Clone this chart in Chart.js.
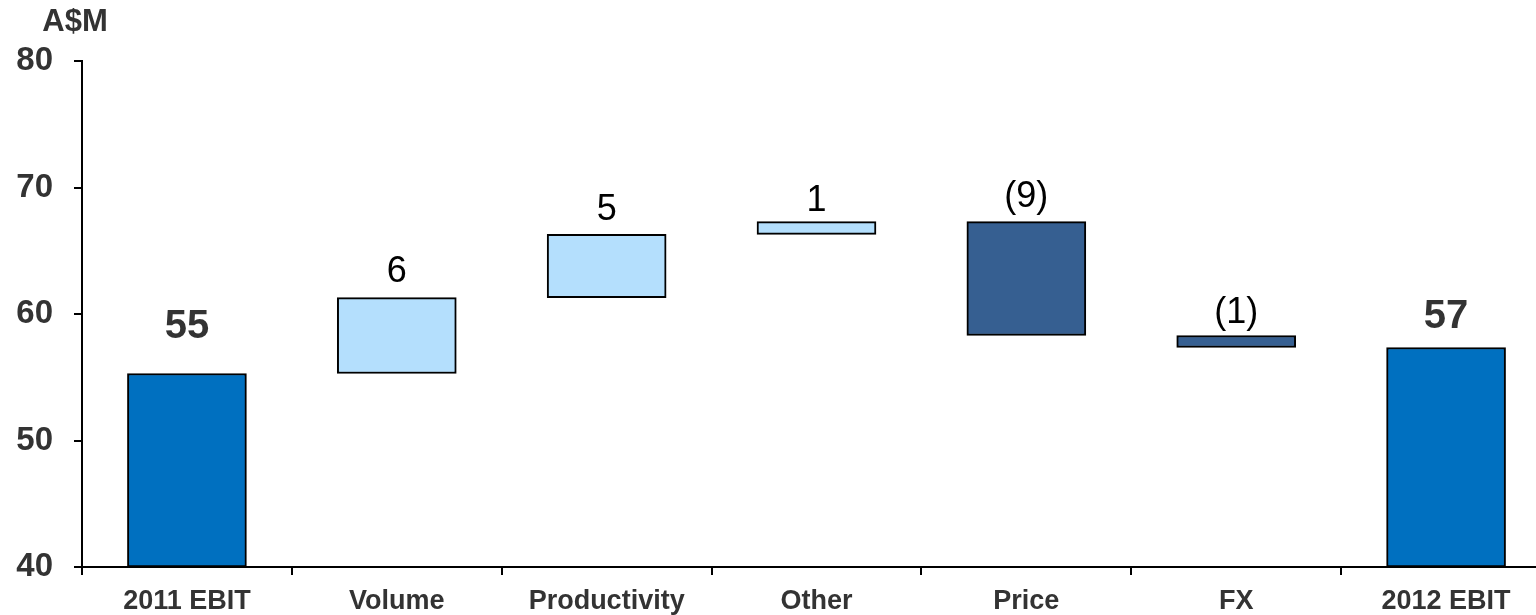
<!DOCTYPE html>
<html>
<head>
<meta charset="utf-8">
<script src="https://cdn.jsdelivr.net/npm/chart.js@4.4.1/dist/chart.umd.min.js"></script>
<style>
  html, body { margin: 0; padding: 0; background: #fff; overflow: hidden; }
  #wrap { position: relative; width: 1551px; height: 615px; }
</style>
</head>
<body>
<div id="wrap"><canvas id="chart"></canvas></div>
<script>
(function () {
  'use strict';

  // Data (A$M)
  const categories = ['2011 EBIT', 'Volume', 'Productivity', 'Other', 'Price', 'FX', '2012 EBIT'];
  const startTotal = 55.3;
  const changes    = [6.0, 5.0, 1.0, -9.0, -0.95];
  const endTotal   = 57.35;
  const valueLabels = ['55', '6', '5', '1', '(9)', '(1)', '57'];
  const yTicks = [40, 50, 60, 70, 80];

  const TOTAL_BLUE = '#0070c0';
  const UP_BLUE    = '#b4dffd';
  const DOWN_BLUE  = '#365f91';
  const TEXT_DARK  = '#333333';
  const FONT = 'Arial, "Liberation Sans", Helvetica, sans-serif';

  // gap (px) between bar top and label baseline, per bar
  const LABEL_GAP = [35, 16, 14, 11, 15, 13, 20];

  // build floating ranges for the waterfall
  const ranges = [];
  const colors = [];
  const axisMin = yTicks[0];
  ranges.push([axisMin, startTotal]);
  colors.push(TOTAL_BLUE);
  let level = startTotal;
  changes.forEach(function (c) {
    ranges.push([level, level + c]);
    colors.push(c >= 0 ? UP_BLUE : DOWN_BLUE);
    level += c;
  });
  ranges.push([axisMin, endTotal]);
  colors.push(TOTAL_BLUE);

  const labelPlugin = {
    id: 'waterfallLabels',
    afterDatasetsDraw: function (chart) {
      const ctx = chart.ctx;
      const meta = chart.getDatasetMeta(0);
      ctx.save();
      ctx.textAlign = 'center';
      ctx.textBaseline = 'alphabetic';
      meta.data.forEach(function (bar, i) {
        const isTotal = i === 0 || i === meta.data.length - 1;
        const top = Math.min(bar.y, bar.base);
        ctx.font = (isTotal ? 'bold 40px ' : '36px ') + FONT;
        ctx.fillStyle = isTotal ? TEXT_DARK : '#000';
        ctx.fillText(valueLabels[i], bar.x, top - LABEL_GAP[i]);
      });
      // unit caption
      ctx.font = 'bold 31px ' + FONT;
      ctx.fillStyle = TEXT_DARK;
      ctx.fillText('A$M', 75, 31);
      ctx.restore();
    }
  };

  new Chart(document.getElementById('chart'), {
    type: 'bar',
    data: {
      labels: categories,
      datasets: [{
        data: ranges,
        backgroundColor: colors,
        borderColor: '#000',
        borderWidth: 2,
        borderSkipped: false,
        barThickness: 119
      }]
    },
    plugins: [labelPlugin],
    options: {
      responsive: true,
      maintainAspectRatio: false,
      animation: false,
      layout: { padding: { top: 61, right: 0, left: 0, bottom: 0 } },
      plugins: {
        legend: { display: false },
        tooltip: { enabled: false }
      },
      scales: {
        x: {
          afterFit: function (scale) { scale.height = 48; },
          grid: {
            offset: true,
            drawOnChartArea: false,
            drawTicks: true,
            tickLength: 8,
            color: '#000',
            lineWidth: 2
          },
          border: { display: true, color: '#000', width: 2 },
          ticks: {
            color: TEXT_DARK,
            font: { family: FONT, size: 27, weight: 'bold' },
            padding: 10,
            maxRotation: 0,
            autoSkip: false
          }
        },
        y: {
          min: yTicks[0],
          max: yTicks[yTicks.length - 1],
          afterFit: function (scale) { scale.width = 82; },
          afterBuildTicks: function (scale) {
            scale.ticks = yTicks.map(function (v) { return { value: v }; });
          },
          grid: {
            drawOnChartArea: false,
            drawTicks: true,
            tickLength: 8,
            color: '#000',
            lineWidth: 2
          },
          border: { display: true, color: '#000', width: 2 },
          ticks: {
            color: TEXT_DARK,
            font: { family: FONT, size: 33, weight: 'bold' },
            padding: 21
          }
        }
      }
    }
  });
})();
</script>
</body>
</html>
